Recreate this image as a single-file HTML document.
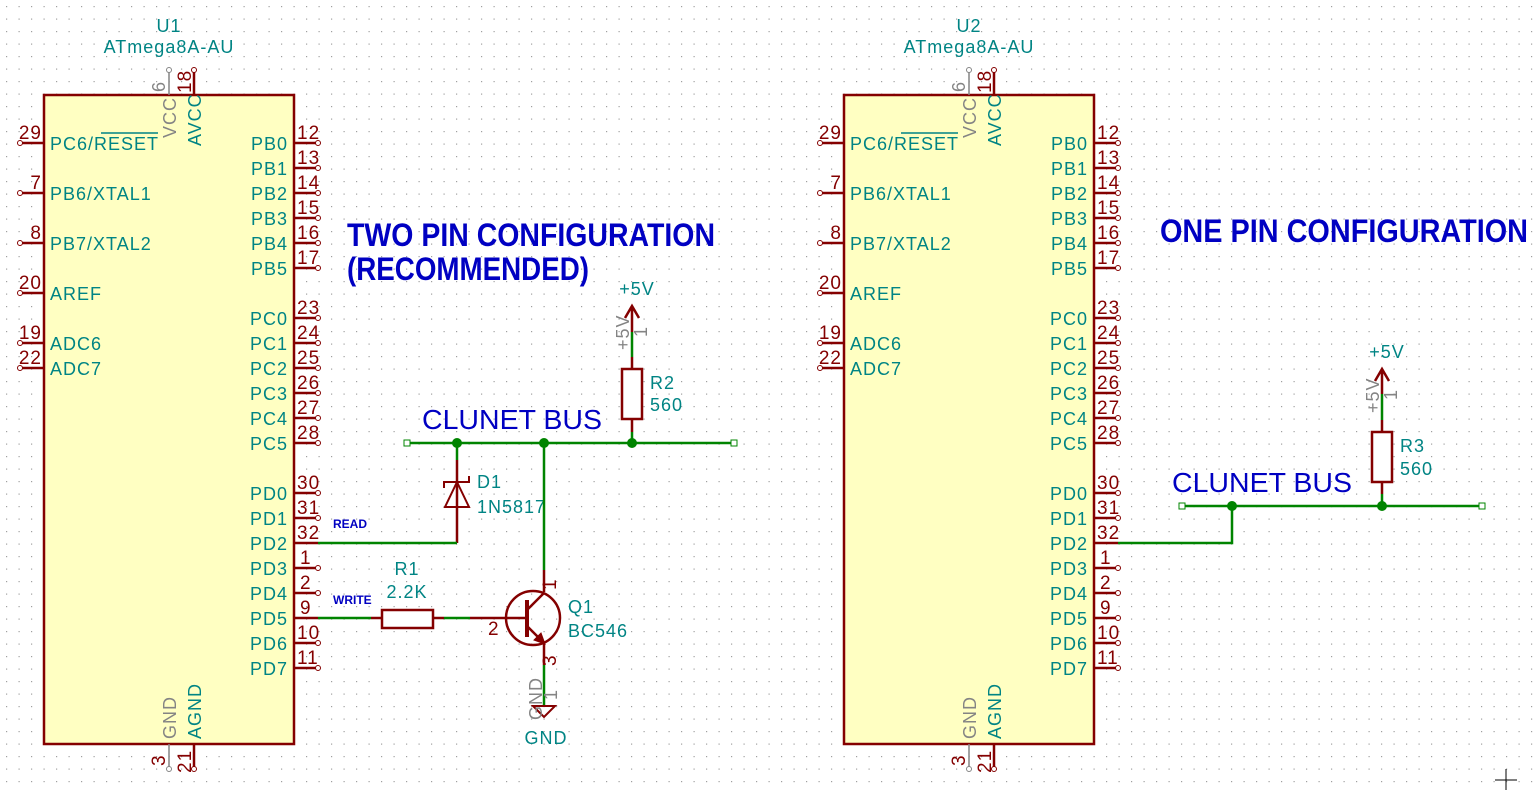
<!DOCTYPE html>
<html><head><meta charset="utf-8"><style>
html,body{margin:0;padding:0;background:#fff}
svg{display:block}
.t{font-family:"Liberation Sans",sans-serif;font-size:18px;fill:#008484;letter-spacing:1px}
.g{font-family:"Liberation Sans",sans-serif;font-size:18px;fill:#848484;letter-spacing:1px}
.n{font-family:"Liberation Sans",sans-serif;font-size:19px;fill:#840000;letter-spacing:1px}
.r{stroke:#840000;stroke-width:2.5;fill:none}
.w{stroke:#008400;stroke-width:2.5;fill:none}
.e{stroke:#840000;stroke-width:1;fill:#fff}
.bt{font-family:"Liberation Sans",sans-serif;font-weight:bold;font-size:32px;fill:#0000c2}
.bl{font-family:"Liberation Sans",sans-serif;font-size:28px;fill:#0000c2}
.sl{font-family:"Liberation Sans",sans-serif;font-weight:bold;font-size:12px;fill:#0000c2}
</style></head><body>
<svg width="1540" height="790" viewBox="0 0 1540 790" xmlns="http://www.w3.org/2000/svg">
<defs>
<pattern id="grid" x="6" y="6" width="12.5" height="12.5" patternUnits="userSpaceOnUse"><rect x="0" y="0" width="1.2" height="1.2" fill="#a0a0a0"/></pattern>
</defs>
<rect width="1540" height="790" fill="url(#grid)"/>

<!-- ===== U1 ===== -->
<g id="chip1">
<rect x="44" y="95" width="250" height="649" fill="#ffffc2" stroke="#840000" stroke-width="2.5"/>
<text class="t" x="169" y="32" text-anchor="middle">U1</text>
<text class="t" x="169" y="53" text-anchor="middle">ATmega8A-AU</text>
<path class="r" d="M20 143H44M20 193H44M20 243H44M20 293H44M20 343H44M20 368H44"/>
<g fill="#fff" stroke="#840000" stroke-width="1"><circle cx="20" cy="143" r="2.5"/><circle cx="20" cy="193" r="2.5"/><circle cx="20" cy="243" r="2.5"/><circle cx="20" cy="293" r="2.5"/><circle cx="20" cy="343" r="2.5"/><circle cx="20" cy="368" r="2.5"/></g>
<g class="n" text-anchor="end"><text x="42" y="139">29</text><text x="42" y="189">7</text><text x="42" y="239">8</text><text x="42" y="289">20</text><text x="42" y="339">19</text><text x="42" y="364">22</text></g>
<g class="t"><text x="50" y="150">PC6/RESET</text><text x="50" y="200">PB6/XTAL1</text><text x="50" y="250">PB7/XTAL2</text><text x="50" y="300">AREF</text><text x="50" y="350">ADC6</text><text x="50" y="375">ADC7</text></g>
<line x1="101" y1="133" x2="158" y2="133" stroke="#008484" stroke-width="1.5"/>
<path class="r" d="M294 143H318M294 168H318M294 193H318M294 218H318M294 243H318M294 268H318M294 318H318M294 343H318M294 368H318M294 393H318M294 418H318M294 443H318M294 493H318M294 518H318M294 543H318M294 568H318M294 593H318M294 618H318M294 643H318M294 668H318"/>
<g fill="#fff" stroke="#840000" stroke-width="1"><circle cx="318" cy="143" r="2.5"/><circle cx="318" cy="168" r="2.5"/><circle cx="318" cy="193" r="2.5"/><circle cx="318" cy="218" r="2.5"/><circle cx="318" cy="243" r="2.5"/><circle cx="318" cy="268" r="2.5"/><circle cx="318" cy="318" r="2.5"/><circle cx="318" cy="343" r="2.5"/><circle cx="318" cy="368" r="2.5"/><circle cx="318" cy="393" r="2.5"/><circle cx="318" cy="418" r="2.5"/><circle cx="318" cy="443" r="2.5"/><circle cx="318" cy="493" r="2.5"/><circle cx="318" cy="518" r="2.5"/><circle cx="318" cy="568" r="2.5"/><circle cx="318" cy="593" r="2.5"/><circle cx="318" cy="643" r="2.5"/><circle cx="318" cy="668" r="2.5"/></g>
<g class="n"><text x="297" y="139">12</text><text x="297" y="164">13</text><text x="297" y="189">14</text><text x="297" y="214">15</text><text x="297" y="239">16</text><text x="297" y="264">17</text><text x="297" y="314">23</text><text x="297" y="339">24</text><text x="297" y="364">25</text><text x="297" y="389">26</text><text x="297" y="414">27</text><text x="297" y="439">28</text><text x="297" y="489">30</text><text x="297" y="514">31</text><text x="297" y="539">32</text><text x="300" y="564">1</text><text x="300" y="589">2</text><text x="300" y="614">9</text><text x="297" y="639">10</text><text x="297" y="664">11</text></g>
<g class="t" text-anchor="end"><text x="288" y="150">PB0</text><text x="288" y="175">PB1</text><text x="288" y="200">PB2</text><text x="288" y="225">PB3</text><text x="288" y="250">PB4</text><text x="288" y="275">PB5</text><text x="288" y="325">PC0</text><text x="288" y="350">PC1</text><text x="288" y="375">PC2</text><text x="288" y="400">PC3</text><text x="288" y="425">PC4</text><text x="288" y="450">PC5</text><text x="288" y="500">PD0</text><text x="288" y="525">PD1</text><text x="288" y="550">PD2</text><text x="288" y="575">PD3</text><text x="288" y="600">PD4</text><text x="288" y="625">PD5</text><text x="288" y="650">PD6</text><text x="288" y="675">PD7</text></g>
<line x1="169" y1="70" x2="169" y2="95" stroke="#848484" stroke-width="1.5"/>
<line class="r" x1="194" y1="70" x2="194" y2="95"/>
<line x1="169" y1="744" x2="169" y2="769" stroke="#848484" stroke-width="1.5"/>
<line class="r" x1="194" y1="744" x2="194" y2="769"/>
<circle cx="169" cy="70" r="2.5" fill="#fff" stroke="#848484"/><circle cx="194" cy="70" r="2.5" class="e"/>
<circle cx="169" cy="769" r="2.5" fill="#fff" stroke="#848484"/><circle cx="194" cy="769" r="2.5" class="e"/>
<text class="g" x="176" y="138" transform="rotate(-90 176 138)">VCC</text>
<text class="t" x="201" y="146" transform="rotate(-90 201 146)">AVCC</text>
<text class="g" x="165" y="92" transform="rotate(-90 165 92)">6</text>
<text class="n" x="191" y="93" transform="rotate(-90 191 93)">18</text>
<text class="g" x="176" y="739" transform="rotate(-90 176 739)">GND</text>
<text class="t" x="201" y="739" transform="rotate(-90 201 739)">AGND</text>
<text class="n" x="165" y="766" transform="rotate(-90 165 766)">3</text>
<text class="n" x="191" y="773" transform="rotate(-90 191 773)">21</text>
</g>

<!-- ===== U2 ===== -->
<g transform="translate(800,0)">
<rect x="44" y="95" width="250" height="649" fill="#ffffc2" stroke="#840000" stroke-width="2.5"/>
<text class="t" x="169" y="32" text-anchor="middle">U2</text>
<text class="t" x="169" y="53" text-anchor="middle">ATmega8A-AU</text>
<path class="r" d="M20 143H44M20 193H44M20 243H44M20 293H44M20 343H44M20 368H44"/>
<g fill="#fff" stroke="#840000" stroke-width="1"><circle cx="20" cy="143" r="2.5"/><circle cx="20" cy="193" r="2.5"/><circle cx="20" cy="243" r="2.5"/><circle cx="20" cy="293" r="2.5"/><circle cx="20" cy="343" r="2.5"/><circle cx="20" cy="368" r="2.5"/></g>
<g class="n" text-anchor="end"><text x="42" y="139">29</text><text x="42" y="189">7</text><text x="42" y="239">8</text><text x="42" y="289">20</text><text x="42" y="339">19</text><text x="42" y="364">22</text></g>
<g class="t"><text x="50" y="150">PC6/RESET</text><text x="50" y="200">PB6/XTAL1</text><text x="50" y="250">PB7/XTAL2</text><text x="50" y="300">AREF</text><text x="50" y="350">ADC6</text><text x="50" y="375">ADC7</text></g>
<line x1="101" y1="133" x2="158" y2="133" stroke="#008484" stroke-width="1.5"/>
<path class="r" d="M294 143H318M294 168H318M294 193H318M294 218H318M294 243H318M294 268H318M294 318H318M294 343H318M294 368H318M294 393H318M294 418H318M294 443H318M294 493H318M294 518H318M294 543H318M294 568H318M294 593H318M294 618H318M294 643H318M294 668H318"/>
<g fill="#fff" stroke="#840000" stroke-width="1"><circle cx="318" cy="143" r="2.5"/><circle cx="318" cy="168" r="2.5"/><circle cx="318" cy="193" r="2.5"/><circle cx="318" cy="218" r="2.5"/><circle cx="318" cy="243" r="2.5"/><circle cx="318" cy="268" r="2.5"/><circle cx="318" cy="318" r="2.5"/><circle cx="318" cy="343" r="2.5"/><circle cx="318" cy="368" r="2.5"/><circle cx="318" cy="393" r="2.5"/><circle cx="318" cy="418" r="2.5"/><circle cx="318" cy="443" r="2.5"/><circle cx="318" cy="493" r="2.5"/><circle cx="318" cy="518" r="2.5"/><circle cx="318" cy="568" r="2.5"/><circle cx="318" cy="593" r="2.5"/><circle cx="318" cy="618" r="2.5"/><circle cx="318" cy="643" r="2.5"/><circle cx="318" cy="668" r="2.5"/></g>
<g class="n"><text x="297" y="139">12</text><text x="297" y="164">13</text><text x="297" y="189">14</text><text x="297" y="214">15</text><text x="297" y="239">16</text><text x="297" y="264">17</text><text x="297" y="314">23</text><text x="297" y="339">24</text><text x="297" y="364">25</text><text x="297" y="389">26</text><text x="297" y="414">27</text><text x="297" y="439">28</text><text x="297" y="489">30</text><text x="297" y="514">31</text><text x="297" y="539">32</text><text x="300" y="564">1</text><text x="300" y="589">2</text><text x="300" y="614">9</text><text x="297" y="639">10</text><text x="297" y="664">11</text></g>
<g class="t" text-anchor="end"><text x="288" y="150">PB0</text><text x="288" y="175">PB1</text><text x="288" y="200">PB2</text><text x="288" y="225">PB3</text><text x="288" y="250">PB4</text><text x="288" y="275">PB5</text><text x="288" y="325">PC0</text><text x="288" y="350">PC1</text><text x="288" y="375">PC2</text><text x="288" y="400">PC3</text><text x="288" y="425">PC4</text><text x="288" y="450">PC5</text><text x="288" y="500">PD0</text><text x="288" y="525">PD1</text><text x="288" y="550">PD2</text><text x="288" y="575">PD3</text><text x="288" y="600">PD4</text><text x="288" y="625">PD5</text><text x="288" y="650">PD6</text><text x="288" y="675">PD7</text></g>
<line x1="169" y1="70" x2="169" y2="95" stroke="#848484" stroke-width="1.5"/>
<line class="r" x1="194" y1="70" x2="194" y2="95"/>
<line x1="169" y1="744" x2="169" y2="769" stroke="#848484" stroke-width="1.5"/>
<line class="r" x1="194" y1="744" x2="194" y2="769"/>
<circle cx="169" cy="70" r="2.5" fill="#fff" stroke="#848484"/><circle cx="194" cy="70" r="2.5" class="e"/>
<circle cx="169" cy="769" r="2.5" fill="#fff" stroke="#848484"/><circle cx="194" cy="769" r="2.5" class="e"/>
<text class="g" x="176" y="138" transform="rotate(-90 176 138)">VCC</text>
<text class="t" x="201" y="146" transform="rotate(-90 201 146)">AVCC</text>
<text class="g" x="165" y="92" transform="rotate(-90 165 92)">6</text>
<text class="n" x="191" y="93" transform="rotate(-90 191 93)">18</text>
<text class="g" x="176" y="739" transform="rotate(-90 176 739)">GND</text>
<text class="t" x="201" y="739" transform="rotate(-90 201 739)">AGND</text>
<text class="n" x="165" y="766" transform="rotate(-90 165 766)">3</text>
<text class="n" x="191" y="773" transform="rotate(-90 191 773)">21</text>
</g>

<!-- ===== Titles ===== -->
<text class="bt" x="347" y="246" textLength="368" lengthAdjust="spacingAndGlyphs">TWO PIN CONFIGURATION</text>
<text class="bt" x="347" y="280" textLength="242" lengthAdjust="spacingAndGlyphs">(RECOMMENDED)</text>
<text class="bt" x="1160" y="242" textLength="368" lengthAdjust="spacingAndGlyphs">ONE PIN CONFIGURATION</text>

<!-- ===== Left circuit ===== -->
<text class="bl" x="422" y="429" textLength="180" lengthAdjust="spacingAndGlyphs">CLUNET BUS</text>
<path class="w" d="M407 443H734"/>
<rect x="404" y="440" width="6" height="6" fill="#fff" stroke="#008400" stroke-width="1"/>
<rect x="731" y="440" width="6" height="6" fill="#fff" stroke="#008400" stroke-width="1"/>
<g fill="#008400"><circle cx="457" cy="443" r="5"/><circle cx="544" cy="443" r="5"/><circle cx="632" cy="443" r="5"/></g>
<path class="w" d="M457 443V460"/>
<path class="r" d="M457 460V543"/>
<path class="w" d="M318 543H457"/>
<path d="M457 482L445 507H469Z" fill="none" stroke="#840000" stroke-width="2"/>
<path class="r" d="M444 488V482H469V476" style="stroke-width:2"/>
<text class="t" x="477" y="488">D1</text>
<text class="t" x="477" y="513">1N5817</text>
<text class="sl" x="333" y="528">READ</text>
<text class="sl" x="333" y="604">WRITE</text>
<path class="w" d="M318 618H371M444 618H470"/>
<path class="r" d="M371 618H382M433 618H444"/>
<rect x="382" y="610" width="51" height="18" fill="#fff" stroke="#840000" stroke-width="2.5"/>
<text class="t" x="407" y="575" text-anchor="middle">R1</text>
<text class="t" x="407" y="598" text-anchor="middle">2.2K</text>
<path class="w" d="M544 443V570"/>
<path class="r" d="M544 570V592M470 618H527M544 644V665"/>
<circle cx="533" cy="618" r="27" fill="none" stroke="#840000" stroke-width="2.5"/>
<line x1="527" y1="600" x2="527" y2="637" stroke="#840000" stroke-width="4"/>
<path class="r" d="M527 610L544 593M527 626L544 643"/>
<path d="M545 644L534 640L541 633Z" fill="#840000" stroke="#840000"/>
<text class="n" x="488" y="635">2</text>
<text class="n" x="556" y="590" transform="rotate(-90 556 590)" font-size="16">1</text>
<text class="n" x="556" y="666" transform="rotate(-90 556 666)" font-size="16">3</text>
<text class="t" x="568" y="613">Q1</text>
<text class="t" x="568" y="637">BC546</text>
<path class="w" d="M544 665V705"/>
<path d="M533 706H555L544 717Z" fill="none" stroke="#840000" stroke-width="2"/>
<text class="g" x="542" y="720" transform="rotate(-90 542 720)" font-size="16">GND</text>
<text class="g" x="557" y="700" transform="rotate(-90 557 700)" font-size="16">1</text>
<text class="t" x="546" y="744" text-anchor="middle">GND</text>
<path class="r" d="M632 306V332M625 318L632 306L639 318M632 357V369M632 419V432"/>
<path class="w" d="M632 332V357M632 432V443"/>
<rect x="622" y="369" width="20" height="50" fill="#fff" stroke="#840000" stroke-width="2.5"/>
<text class="t" x="637" y="295" text-anchor="middle">+5V</text>
<text class="g" x="629" y="350" transform="rotate(-90 629 350)" font-size="16">+5V</text>
<text class="g" x="647" y="337" transform="rotate(-90 647 337)" font-size="16">1</text>
<text class="t" x="650" y="389">R2</text>
<text class="t" x="650" y="411">560</text>

<!-- ===== Right circuit ===== -->
<text class="bl" x="1172" y="492" textLength="180" lengthAdjust="spacingAndGlyphs">CLUNET BUS</text>
<path class="w" d="M1182 506H1482M1118 543H1232V506"/>
<rect x="1179" y="503" width="6" height="6" fill="#fff" stroke="#008400" stroke-width="1"/>
<rect x="1479" y="503" width="6" height="6" fill="#fff" stroke="#008400" stroke-width="1"/>
<g fill="#008400"><circle cx="1232" cy="506" r="5"/><circle cx="1382" cy="506" r="5"/></g>
<path class="r" d="M1382 369V394M1375 381L1382 369L1389 381M1382 420V432M1382 482V494"/>
<path class="w" d="M1382 394V420M1382 494V506"/>
<rect x="1372" y="432" width="20" height="50" fill="#fff" stroke="#840000" stroke-width="2.5"/>
<text class="t" x="1387" y="358" text-anchor="middle">+5V</text>
<text class="g" x="1379" y="413" transform="rotate(-90 1379 413)" font-size="16">+5V</text>
<text class="g" x="1397" y="400" transform="rotate(-90 1397 400)" font-size="16">1</text>
<text class="t" x="1400" y="452">R3</text>
<text class="t" x="1400" y="475">560</text>

<path d="M1495 780H1517M1506 769V790" stroke="#000" stroke-width="1"/>
</svg>
</body></html>
